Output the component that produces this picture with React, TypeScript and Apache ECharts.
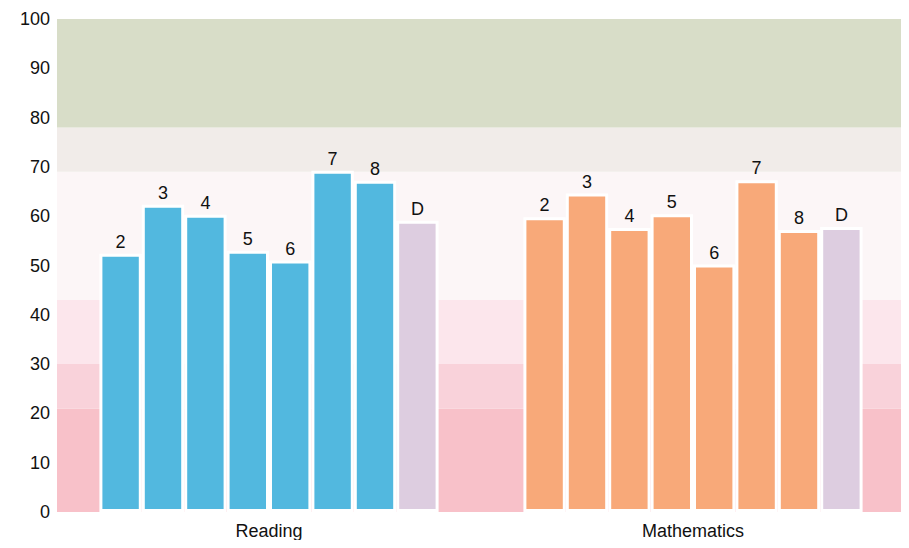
import React, { useEffect, useRef } from "react";
import * as echarts from "echarts";

// Slots: left band column, Reading 2..8 + D, two middle band columns, Mathematics 2..8 + D, right band column
const slotLabels = ["", "2", "3", "4", "5", "6", "7", "8", "D", "", "", "2", "3", "4", "5", "6", "7", "8", "D", ""];
const readingValues = [52.4, 62.3, 60.3, 53, 51, 69.2, 67.2, 59.1];
const mathValues = [59.8, 64.6, 57.6, 60.4, 50.2, 67.3, 57.2, 57.8];
const groupNames = ["Reading", "Mathematics"];
const yTicks = [0, 10, 20, 30, 40, 50, 60, 70, 80, 90, 100];
// background bands: [from, to]
const bandRanges: [number, number][] = [
  [0, 21],
  [21, 30],
  [30, 43],
  [43, 69],
  [69, 78],
  [78, 100],
];
const bandColors = ["#f8c1c9", "#f9d2da", "#fce6ec", "#fcf6f7", "#f1ece9", "#d8ddc8"];

const READ_COLOR = "#52b8df";
const MATH_COLOR = "#f8a979";
const D_COLOR = "#ddcde0";
const FONT = "Liberation Sans, Arial, sans-serif";

export default function App() {
  const ref = useRef<HTMLDivElement>(null);
  useEffect(() => {
    if (!ref.current) return;
    const chart = echarts.init(ref.current, null, { renderer: "svg" });

    const data: any[] = [];
    data.push({ value: null });
    readingValues.forEach((v, i) => {
      const isD = i === readingValues.length - 1;
      data.push({ value: v, itemStyle: { color: isD ? D_COLOR : READ_COLOR } });
    });
    data.push({ value: null });
    data.push({ value: null });
    mathValues.forEach((v, i) => {
      const isD = i === mathValues.length - 1;
      data.push({ value: v, itemStyle: { color: isD ? D_COLOR : MATH_COLOR } });
    });
    data.push({ value: null });

    chart.setOption({
      animation: false,
      backgroundColor: "#ffffff",
      grid: { left: 57, right: 4, top: 19, bottom: 36 },
      xAxis: [
        {
          type: "category",
          data: slotLabels.map((s, i) => String(i)),
          axisLine: { show: false },
          axisTick: { show: false },
          axisLabel: { show: false },
          splitLine: { show: false },
        },
        {
          type: "value",
          min: 0,
          max: 20,
          interval: 5,
          position: "bottom",
          axisLine: { show: false },
          axisTick: { show: false },
          splitLine: { show: false },
          axisLabel: {
            margin: 10,
            fontFamily: FONT,
            fontSize: 18,
            color: "#111",
            formatter: (v: number) => (v === 5 ? groupNames[0] : v === 15 ? groupNames[1] : ""),
          },
        },
      ],
      yAxis: {
        type: "value",
        min: 0,
        max: 100,
        interval: 10,
        axisLine: { show: false },
        axisTick: { show: false },
        splitLine: { show: false },
        axisLabel: {
          margin: 7,
          fontFamily: FONT,
          fontSize: 18,
          color: "#111",
          formatter: (v: number) => (yTicks.includes(v) ? String(v) : ""),
        },
      },
      series: [
        {
          type: "bar",
          xAxisIndex: 0,
          barWidth: "100%",
          data,
          itemStyle: { borderColor: "#ffffff", borderWidth: 3 },
          label: {
            show: true,
            position: "top",
            distance: 3,
            fontFamily: FONT,
            fontSize: 18,
            color: "#111",
            formatter: (p: any) => slotLabels[p.dataIndex],
          },
          markArea: {
            silent: true,
            label: { show: false },
            data: bandRanges.map((r, i) => [
              { yAxis: r[0], itemStyle: { color: bandColors[i] } },
              { yAxis: r[1] },
            ]),
          },
          z: 3,
        },
      ],
    });
    return () => chart.dispose();
  }, []);
  return <div ref={ref} style={{ width: 909, height: 548, margin: -8 }} />;
}
